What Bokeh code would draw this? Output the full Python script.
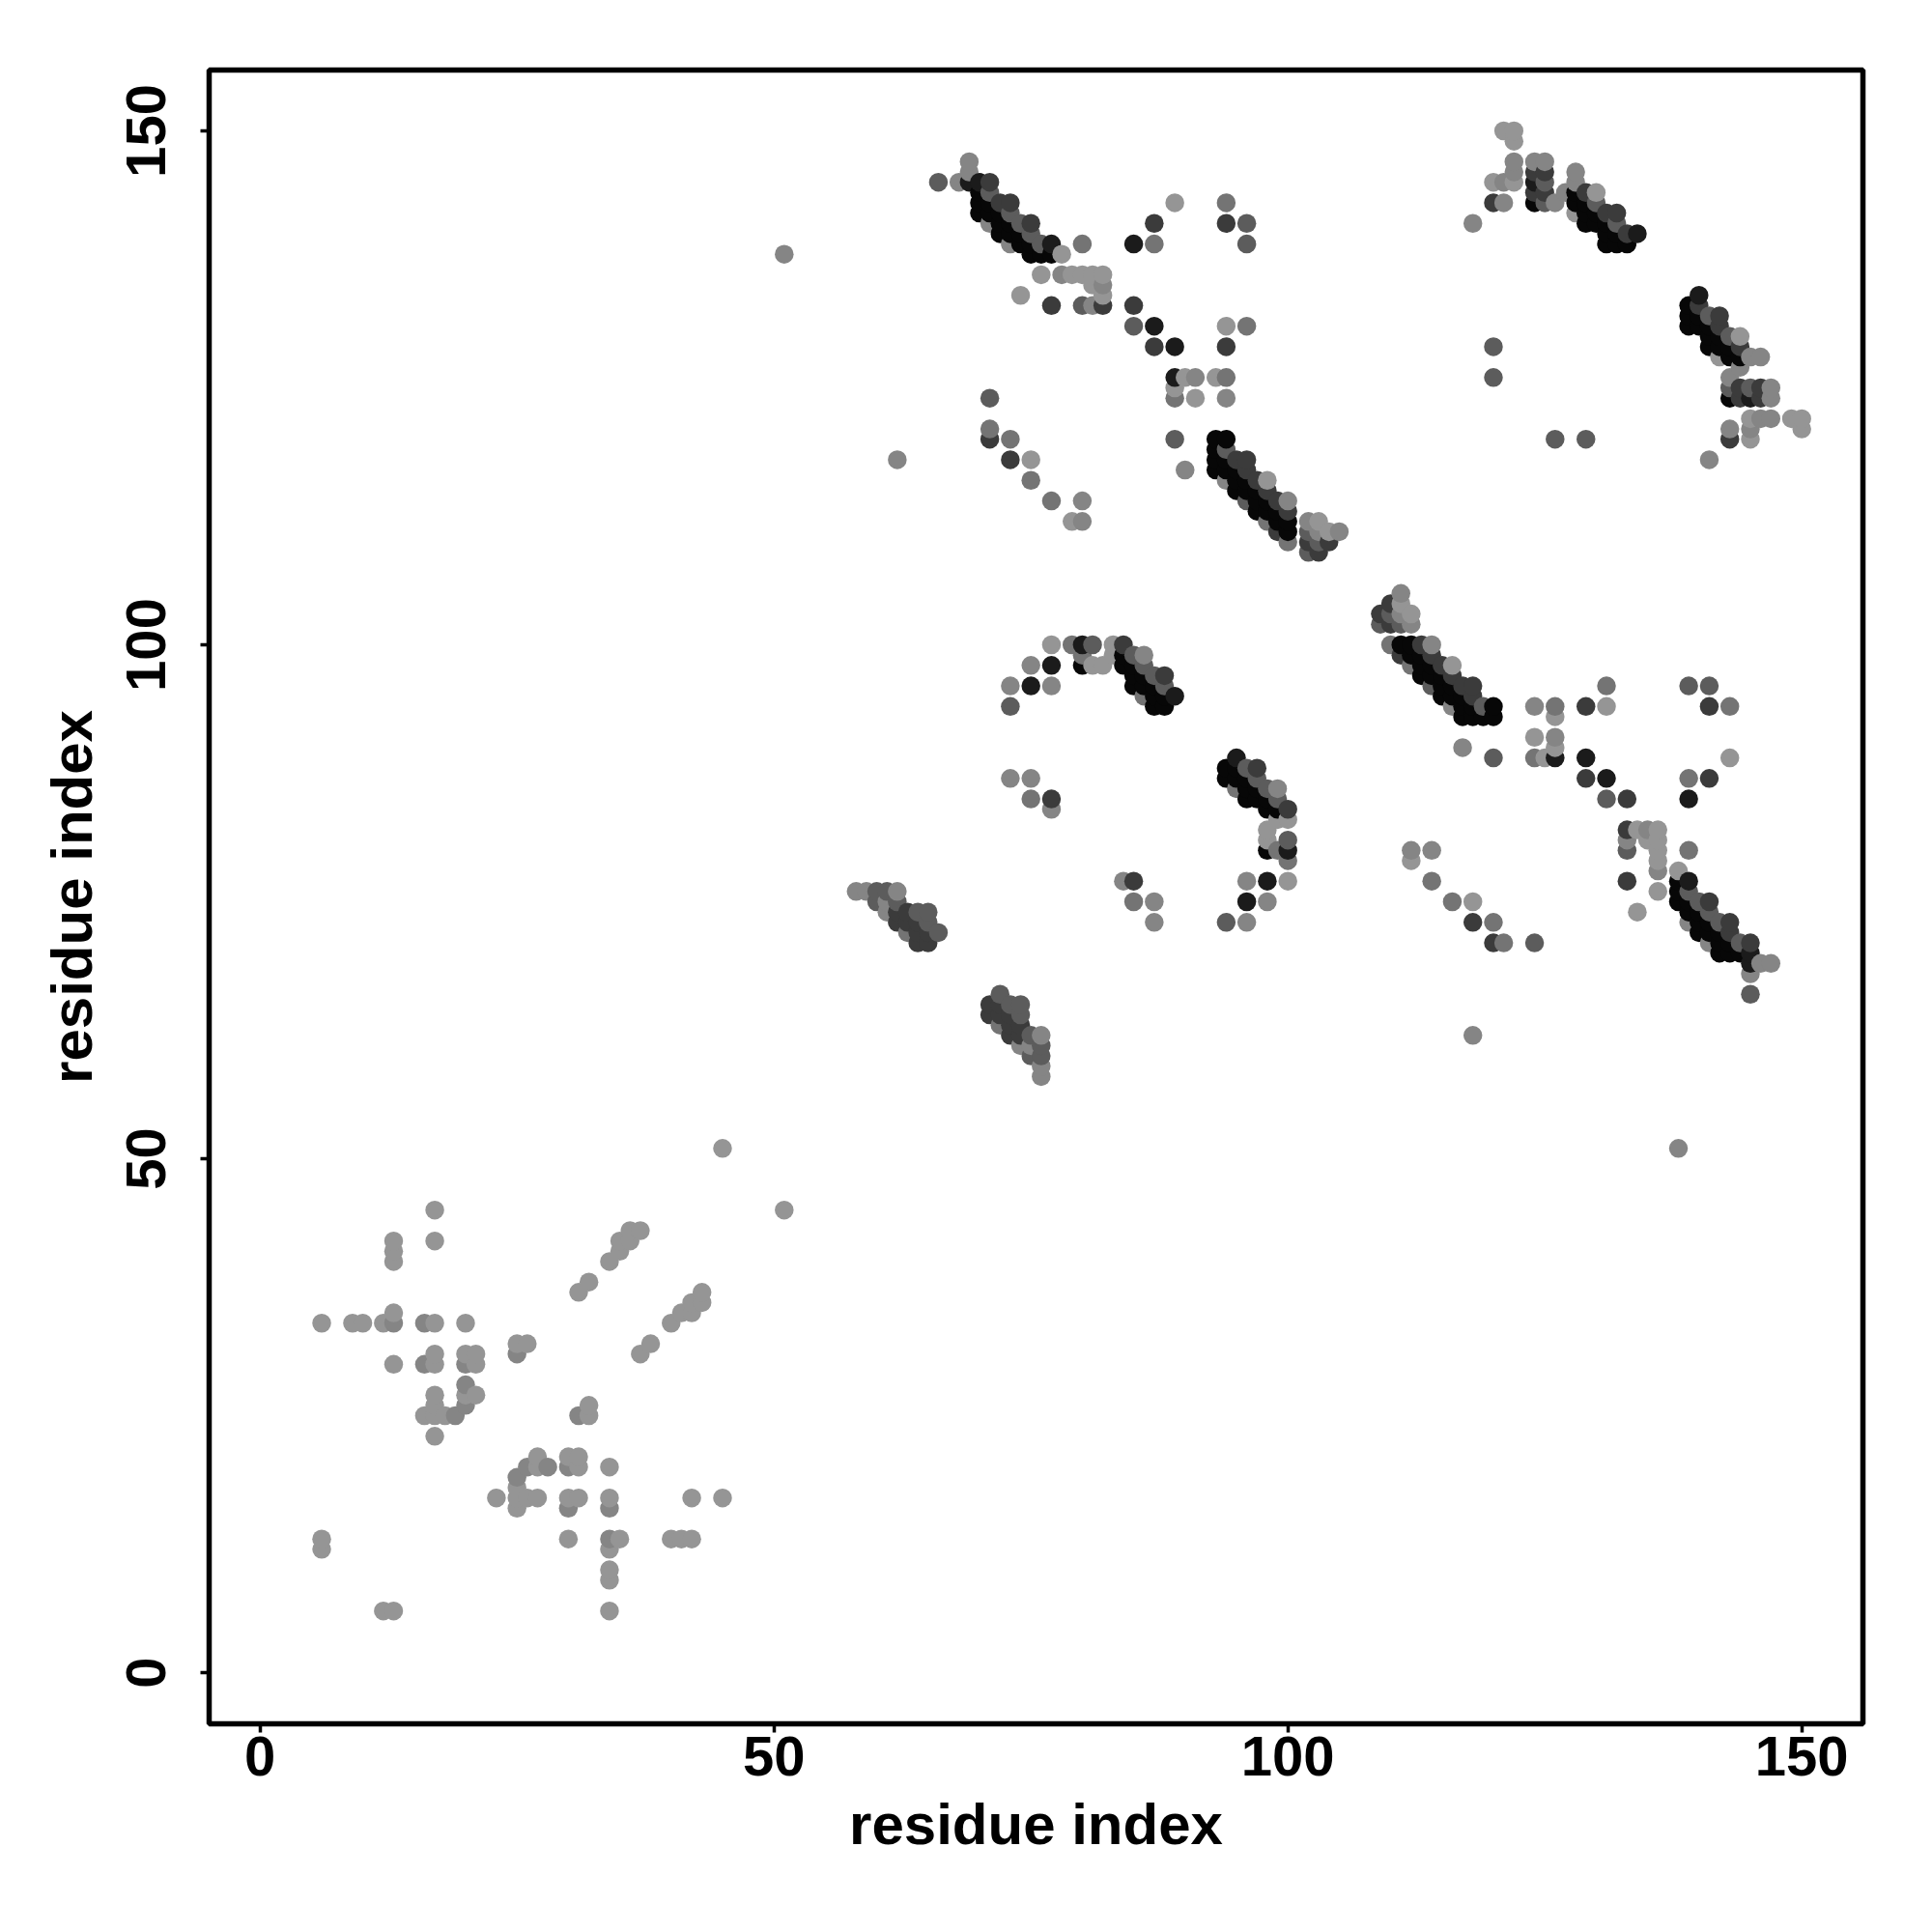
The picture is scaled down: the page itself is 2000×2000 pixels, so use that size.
import numpy as np
from bokeh.plotting import figure
from bokeh.models import FixedTicker, ColumnDataSource, Range1d
from bokeh.embed import file_html
from bokeh.resources import INLINE

tick_values = [0, 50, 100, 150]
axis_title = "residue index"

shades = {"B": "#070707", "K": "#1b1b1b", "D": "#3b3b3b", "E": "#5c5c5c",
          "M": "#747474", "N": "#858585", "L": "#959595"}

# contacts with i < j; the map is symmetric
contacts_nterm = [
    (6,34,"L"),(9,34,"L"),(10,34,"L"),(12,34,"L"),(13,34,"N"),(13,35,"L"),(16,34,"N"),(17,34,"L"),(20,34,"L"),
    (6,13,"L"),(6,12,"L"),(13,30,"L"),(13,40,"L"),(13,41,"L"),(13,42,"L"),(17,42,"L"),(17,45,"L"),
    (16,30,"N"),(17,30,"L"),(17,31,"L"),(20,30,"N"),(20,31,"L"),(21,30,"L"),(21,31,"L"),
    (16,25,"L"),(17,25,"L"),(18,25,"L"),(19,25,"N"),(17,26,"L"),(20,26,"N"),(17,27,"L"),(20,27,"L"),(21,27,"L"),
    (20,28,"N"),(17,23,"L"),(25,31,"N"),(25,32,"L"),(26,32,"L"),(31,37,"L"),(32,38,"L"),(34,40,"L"),
    (35,41,"L"),(35,42,"L"),(36,42,"L"),(36,43,"L"),(37,43,"L"),(45,51,"L"),(51,138,"N"),(62,118,"N"),
]
contacts_58_66 = [
    (58,76,"N"),(59,76,"N"),(60,75,"E"),(60,76,"E"),(61,74,"N"),(61,75,"N"),(61,76,"E"),
    (62,73,"D"),(62,74,"D"),(62,75,"E"),(62,76,"N"),(63,72,"M"),(63,73,"D"),(63,74,"D"),
    (64,71,"D"),(64,72,"D"),(64,73,"D"),(64,74,"E"),(65,71,"D"),(65,72,"D"),(65,73,"E"),(65,74,"E"),(66,72,"E"),
]
contacts_66_91 = [
    (66,145,"E"),(68,145,"N"),(69,145,"K"),(69,146,"N"),(69,147,"N"),
    (70,142,"B"),(70,143,"B"),(70,144,"B"),(70,145,"K"),
    (71,141,"N"),(71,142,"B"),(71,143,"B"),(71,144,"E"),(71,145,"D"),(71,124,"E"),(71,120,"D"),(71,121,"M"),
    (72,140,"B"),(72,141,"B"),(72,142,"B"),(72,143,"D"),
    (73,139,"N"),(73,140,"B"),(73,141,"B"),(73,142,"E"),(73,143,"D"),(73,120,"M"),(73,118,"D"),
    (74,139,"B"),(74,140,"B"),(74,141,"E"),(74,134,"L"),
    (75,138,"B"),(75,139,"B"),(75,140,"E"),(75,141,"D"),(75,116,"M"),(75,118,"L"),
    (76,136,"L"),(76,138,"B"),(76,139,"E"),
    (77,133,"D"),(77,138,"B"),(77,139,"K"),(77,114,"M"),
    (78,136,"N"),(78,138,"L"),(79,136,"L"),(79,112,"L"),
    (80,133,"E"),(80,136,"L"),(80,139,"M"),(80,112,"N"),(80,114,"N"),
    (81,133,"N"),(81,135,"L"),(81,136,"L"),
    (82,133,"D"),(82,134,"L"),(82,135,"N"),(82,136,"L"),
    (85,131,"E"),(85,133,"D"),(85,139,"K"),(87,129,"D"),(87,131,"K"),(87,139,"M"),(87,141,"D"),
    (89,120,"E"),(89,124,"M"),(89,125,"L"),(89,126,"K"),(89,129,"K"),(89,143,"L"),
    (90,117,"N"),(90,126,"L"),(91,124,"L"),(91,126,"N"),
]
contacts_93_105 = [
    (93,117,"B"),(93,118,"B"),(93,119,"B"),(93,120,"B"),(93,126,"L"),
    (94,116,"N"),(94,117,"B"),(94,118,"B"),(94,119,"E"),(94,120,"B"),(94,124,"N"),(94,126,"M"),
    (94,129,"D"),(94,131,"L"),(94,141,"D"),(94,143,"M"),
    (95,115,"B"),(95,116,"B"),(95,117,"B"),(95,118,"D"),
    (96,114,"E"),(96,115,"B"),(96,116,"B"),(96,117,"D"),(96,118,"D"),(96,131,"M"),(96,139,"E"),(96,141,"E"),
    (97,113,"B"),(97,114,"B"),(97,115,"B"),(97,116,"D"),
    (98,112,"M"),(98,113,"B"),(98,114,"B"),(98,115,"D"),(98,116,"L"),
    (99,111,"D"),(99,112,"B"),(99,113,"B"),(99,114,"D"),
    (100,110,"M"),(100,111,"B"),(100,112,"B"),(100,113,"D"),(100,114,"N"),
    (102,109,"E"),(102,110,"D"),(102,111,"E"),(102,112,"N"),
    (103,109,"D"),(103,110,"E"),(103,111,"N"),(103,112,"L"),
    (104,110,"D"),(104,111,"L"),(105,111,"N"),
]
contacts_73_89 = [
    (73,87,"N"),(75,87,"N"),(75,85,"M"),(77,85,"D"),(77,84,"N"),
    (73,94,"E"),(73,96,"N"),(75,96,"K"),(75,98,"N"),(77,96,"N"),(77,98,"K"),(77,100,"L"),
    (79,100,"M"),(80,98,"B"),(80,99,"M"),(80,100,"K"),(81,98,"L"),(81,100,"E"),(82,98,"L"),
    (83,99,"L"),(83,100,"L"),(84,98,"B"),(84,99,"B"),(84,100,"D"),
    (85,96,"B"),(85,97,"B"),(85,98,"B"),(85,99,"E"),
    (86,95,"M"),(86,96,"B"),(86,97,"B"),(86,98,"E"),(86,99,"N"),
    (87,94,"B"),(87,95,"B"),(87,96,"B"),(87,97,"E"),
    (88,94,"B"),(88,95,"B"),(88,96,"E"),(88,97,"D"),(89,95,"K"),
]
contacts_118_134 = [
    (118,141,"N"),(120,126,"E"),(120,129,"E"),(120,143,"D"),(120,145,"L"),
    (121,143,"N"),(121,145,"N"),(121,150,"L"),
    (122,145,"L"),(122,146,"N"),(122,147,"N"),(122,149,"L"),(122,150,"L"),
    (124,143,"B"),(124,144,"D"),(124,145,"K"),(124,146,"D"),(124,147,"N"),
    (125,143,"E"),(125,144,"D"),(125,145,"E"),(125,146,"D"),(125,147,"N"),
    (126,143,"N"),(127,144,"N"),
    (128,142,"L"),(128,143,"B"),(128,144,"B"),(128,145,"N"),(128,146,"N"),
    (129,141,"B"),(129,142,"B"),(129,143,"B"),(129,144,"D"),
    (130,141,"B"),(130,142,"B"),(130,143,"E"),(130,144,"L"),
    (131,139,"B"),(131,140,"B"),(131,141,"B"),(131,142,"D"),
    (132,139,"B"),(132,140,"B"),(132,141,"E"),(132,142,"D"),
    (133,139,"B"),(133,140,"D"),(134,140,"K"),
]

half = (contacts_nterm + contacts_58_66 + contacts_66_91 + contacts_93_105
        + contacts_73_89 + contacts_118_134)
i = np.array([c[0] for c in half] + [c[1] for c in half])
j = np.array([c[1] for c in half] + [c[0] for c in half])
g = np.array([shades[c[2]] for c in half] * 2)
order = np.lexsort((j, i))
src = ColumnDataSource(dict(x=i[order], y=j[order], c=g[order]))

W, H = 1990, 1990
p = figure(width=W, height=H, output_backend="svg", toolbar_location=None,
           x_range=Range1d(-4.95, 155.95), y_range=Range1d(-4.98, 155.92),
           min_border_left=216, min_border_right=62, min_border_top=72, min_border_bottom=206)
p.scatter("x", "y", source=src, size=19.5, fill_color="c", line_color=None)

p.grid.visible = False
p.outline_line_color = "black"
p.outline_line_width = 5.5
p.background_fill_color = "white"
for ax in (p.xaxis[0], p.yaxis[0]):
    ax.ticker = FixedTicker(ticks=tick_values)
    ax.axis_line_color = None
    ax.major_tick_in = 0
    ax.major_tick_out = 9
    ax.major_tick_line_width = 3.5
    ax.major_tick_line_color = "black"
    ax.minor_tick_line_color = None
    ax.major_label_text_font = "Liberation Sans"
    ax.major_label_text_font_style = "bold"
    ax.major_label_text_font_size = "58px"
    ax.major_label_text_color = "black"
    ax.axis_label = axis_title
    ax.axis_label_text_font = "Liberation Sans"
    ax.axis_label_text_font_style = "bold"
    ax.axis_label_text_font_size = "60px"
    ax.axis_label_text_color = "black"
p.xaxis[0].major_label_standoff = 4
p.xaxis[0].axis_label_standoff = 14
p.yaxis[0].major_label_orientation = "vertical"
p.yaxis[0].major_label_standoff = 36
p.yaxis[0].axis_label_standoff = 21

open("out.html", "w").write(file_html(p, INLINE))
